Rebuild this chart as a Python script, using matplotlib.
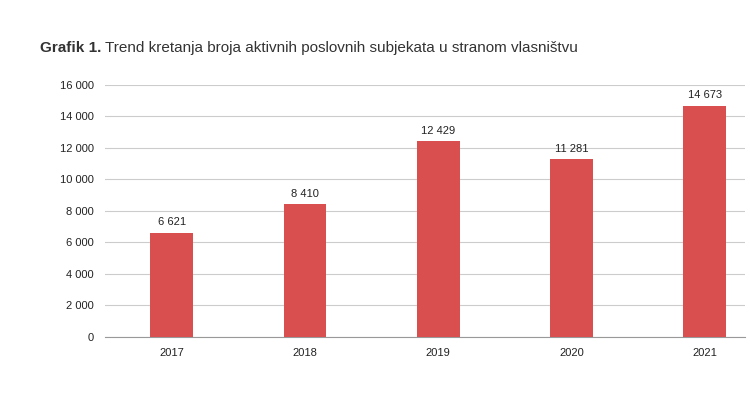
import matplotlib
matplotlib.use("Agg")
import matplotlib.pyplot as plt
plt.rcParams['font.family'] = ['Liberation Sans', 'DejaVu Sans']

years = ["2017", "2018", "2019", "2020", "2021"]
values = [6621, 8410, 12429, 11281, 14673]
yticks = list(range(0, 16001, 2000))

def fmt(v):
    return f"{v:,}".replace(",", " ")

fig = plt.figure(figsize=(7.5, 4.16), dpi=100)
ax = fig.add_axes([0.14, 0.19, 0.853, 0.606])
x = range(len(years))
ax.bar(x, values, width=0.32, color="#d94f4f", zorder=3)
for xi, v in zip(x, values):
    ax.text(xi, v + 350, fmt(v), ha="center", va="bottom", fontsize=8, color="#222222")
ax.set_xlim(-0.5, 4.3)
ax.set_ylim(0, 16000)
ax.set_yticks(yticks)
ax.set_yticklabels([fmt(t) for t in yticks], fontsize=8)
ax.set_xticks(list(x))
ax.set_xticklabels(years, fontsize=8)
ax.grid(axis="y", color="#cccccc", linewidth=0.8, zorder=0)
for s in ["top", "right", "left"]:
    ax.spines[s].set_visible(False)
ax.spines["bottom"].set_color("#999999")
ax.tick_params(length=0, pad=8, colors="#222222")

t = fig.text(0.053, 0.875, "Grafik 1.", fontsize=11, fontweight="bold", color="#333333")
fig.canvas.draw()
bb = t.get_window_extent().transformed(fig.transFigure.inverted())
fig.text(bb.x1 + 0.005, 0.875, "Trend kretanja broja aktivnih poslovnih subjekata u stranom vlasništvu",
         fontsize=11, color="#333333")
fig.savefig("out.png", dpi=100)
